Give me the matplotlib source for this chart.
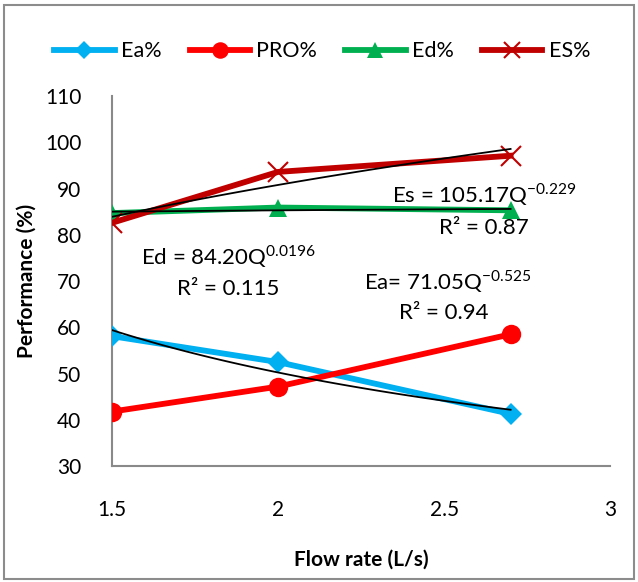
import numpy as np
import matplotlib
matplotlib.use("Agg")
import matplotlib.pyplot as plt
from matplotlib.patches import Rectangle

plt.rcParams['font.family'] = ['Lato', 'DejaVu Sans']

flow = [1.5, 2.0, 2.7]
ea = [58.1, 52.5, 41.3]
pro = [41.8, 47.2, 58.5]
ed = [84.7, 85.9, 85.3]
es = [82.6, 93.6, 97.1]

series_names = ["Ea%", "PRO%", "Ed%", "ES%"]
colors = ["#00B0F0", "#FF0000", "#00B050", "#C00000"]
markers = ["D", "o", "^", "x"]

fig = plt.figure(figsize=(6.38, 5.82), dpi=100)
ax = fig.add_axes([0.1755, 0.199, 0.781, 0.636])

for name, vals, c, m in zip(series_names, [ea, pro, ed, es], colors, markers):
    ms = {"D": 11, "o": 14, "^": 13, "x": 14}[m]
    mew = 1.5 if m == "x" else 0
    ax.plot(flow, vals, color=c, lw=4.2, marker=m, markersize=ms,
            markeredgewidth=mew, markeredgecolor=c, label=name, zorder=3)

# power trendlines (fit in log space)
xx = np.linspace(flow[0], flow[-1], 60)
for vals in [ea, ed, es]:
    b, lna = np.polyfit(np.log(flow), np.log(vals), 1)
    ax.plot(xx, np.exp(lna) * xx ** b, color="black", lw=1.3, zorder=4)

ax.set_xlim(1.5, 3.0)
ax.set_ylim(30, 110)
ax.set_xticks([1.5, 2, 2.5, 3])
ax.set_xticklabels(["1.5", "2", "2.5", "3"])
ax.set_yticks(range(30, 111, 10))
ax.tick_params(length=0, labelsize=15)
ax.tick_params(axis="x", pad=24)
ax.tick_params(axis="y", pad=22)
for s in ["top", "right"]:
    ax.spines[s].set_visible(False)
for s in ["left", "bottom"]:
    ax.spines[s].set_color("#898989")
    ax.spines[s].set_linewidth(1.5)
ax.set_xlabel("Flow rate (L/s)", fontsize=15, fontweight="bold", labelpad=22)
ax.set_ylabel("Performance (%)", fontsize=15, fontweight="bold", labelpad=6)

fs = 16
ax.text(2.62, 88.6, r"Es = 105.17Q$^{\mathregular{-0.229}}$", fontsize=fs, ha="center", va="center")
ax.text(2.62, 81.4, "R² = 0.87", fontsize=fs, ha="center", va="center")
ax.text(1.85, 75.2, r"Ed = 84.20Q$^{\mathregular{0.0196}}$", fontsize=fs, ha="center", va="center")
ax.text(1.85, 68.4, "R² = 0.115", fontsize=fs, ha="center", va="center")
ax.text(2.51, 69.8, r"Ea= 71.05Q$^{\mathregular{-0.525}}$", fontsize=fs, ha="center", va="center")
ax.text(2.50, 63.0, "R² = 0.94", fontsize=fs, ha="center", va="center")

fig.legend(loc="center", bbox_to_anchor=(0.505, 0.912), ncol=4, frameon=False,
           fontsize=15.5, handlelength=2.8, columnspacing=1.3, handletextpad=0.3,
           markerscale=0.85)

fig.patches.append(Rectangle((0.006, 0.006), 0.988, 0.985, transform=fig.transFigure,
                             fill=False, edgecolor="#8c8c8c", lw=1.5))

fig.savefig("out.png", dpi=100)
